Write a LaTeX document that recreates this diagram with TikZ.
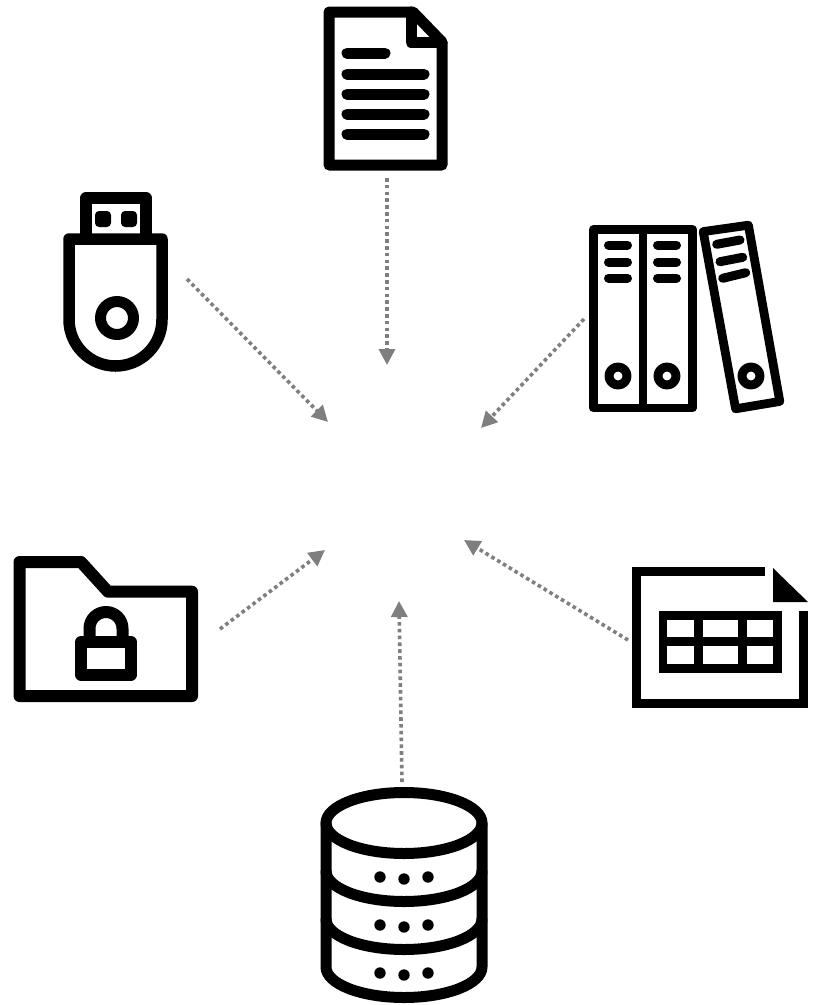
\documentclass[tikz,border=0pt]{standalone}
\usetikzlibrary{arrows.meta}
\tikzset{
  icon/.style={line width=#1, line join=round, line cap=round, draw=black},
  flow/.style={draw=arrowgray, line width=3.6pt, dash pattern=on 3.6pt off 3.2pt, -{Triangle[length=16pt,width=16pt,fill=arrowgray]}},
}
\definecolor{arrowgray}{HTML}{7F7F7F}
\begin{document}
\begin{tikzpicture}[x=1pt,y=-1pt]
\useasboundingbox (0,0) rectangle (815,1005);
\fill[white] (0,0) rectangle (815,1005);

% document
\draw[icon=11pt] (329,12) -- (413,12) -- (442,42) -- (442,165) -- (329,165) -- cycle;
\draw[icon=11pt] (411,12) -- (411,42.5) -- (442,42.5);
\foreach \yy/\xx in {53/385,74/424,94/424,114/424,134/424}
  \draw[icon=11pt] (347,\yy) -- (\xx,\yy);

% usb stick
\draw[icon=11.5pt] (86,239) -- (86,198) -- (146,198) -- (146,239);
\draw[icon=11.5pt] (69,239) -- (162,239) -- (162,319.5) arc[start angle=0,end angle=180,radius=46.5] -- cycle;
\draw[icon=11pt] (117,318) circle[radius=16.5];
\fill[rounded corners=4pt] (95,211) rectangle (111,227);
\fill[rounded corners=4pt] (121,211) rectangle (137,227);

% binders
\draw[icon=8.8pt] (593.5,229.5) rectangle (643,408);
\draw[icon=8.8pt] (643,229.5) rectangle (692.5,408);
\foreach \yy in {245,262,278}{
  \draw[icon=9pt] (608.5,\yy) -- (627.5,\yy);
  \draw[icon=9pt] (657.5,\yy) -- (676.5,\yy);
}
\draw[icon=9pt] (618,376) circle[radius=9];
\draw[icon=9pt] (667,376) circle[radius=9];
\draw[icon=8.8pt] (703.2,231.6) -- (748.4,225.2) -- (779.8,401.4) -- (735.6,408.8) -- cycle;
\draw[icon=9pt] (716.7,244.3) -- (740,240);
\draw[icon=9pt] (720,261.7) -- (742.7,257.3);
\draw[icon=9pt] (722.7,278.3) -- (745.7,272.7);
\draw[icon=9pt] (751,376) circle[radius=9];

% folder with lock
\draw[icon=12pt] (19.5,562) -- (81,562) -- (108,591.7) -- (192,591.7) -- (192,696) -- (19.5,696) -- cycle;
\draw[icon=12pt] (81,642) rectangle (131,674.5);
\draw[icon=12pt] (89.5,642) -- (89.5,628.5) arc[start angle=180,end angle=360,radius=16.5] -- (122.5,642);

% table sheet
\draw[line width=9pt, draw=black, line join=miter] (764.5,571.5) -- (636.5,571.5) -- (636.5,703.5) -- (803.5,703.5) -- (803.5,611);
\fill (773,568) -- (808,602) -- (773,602) -- cycle;
\fill (659,611) rectangle (782,673);
\foreach \xa/\xb in {667.3/694,702.7/738.3,746.7/773.3}
  \foreach \ya/\yb in {620/637.3,646.3/664}
    \fill[white] (\xa,\ya) rectangle (\xb,\yb);

% database
\draw[icon=11pt] (404,823) ellipse[x radius=78,y radius=30.5];
\draw[icon=11pt] (326,823) -- (326,967) arc[start angle=180,end angle=0,x radius=78,y radius=30.5] -- (482,823);
\draw[icon=11pt] (326,871) arc[start angle=180,end angle=0,x radius=78,y radius=30.5];
\draw[icon=11pt] (326,919) arc[start angle=180,end angle=0,x radius=78,y radius=30.5];
\foreach \yy in {877,925,973}{
  \fill (380,\yy) circle[radius=5.7];
  \fill (404,\yy+2) circle[radius=5.7];
  \fill (428,\yy) circle[radius=5.7];
}

% connectors
\coordinate (docEnd) at (387,178);
\coordinate (docTip) at (387,365);
\coordinate (usbEnd) at (187,279);
\coordinate (usbTip) at (328,422);
\coordinate (binderEnd) at (584,319);
\coordinate (binderTip) at (481,428);
\coordinate (folderEnd) at (220,629);
\coordinate (folderTip) at (325,550);
\coordinate (tableEnd) at (628,640);
\coordinate (tableTip) at (464,540);
\coordinate (dbEnd) at (402,782);
\coordinate (dbTip) at (399,601);
\draw[flow] (docEnd) -- (docTip);
\draw[flow] (usbEnd) -- (usbTip);
\draw[flow] (binderEnd) -- (binderTip);
\draw[flow] (folderEnd) -- (folderTip);
\draw[flow] (tableEnd) -- (tableTip);
\draw[flow] (dbEnd) -- (dbTip);
\end{tikzpicture}
\end{document}
